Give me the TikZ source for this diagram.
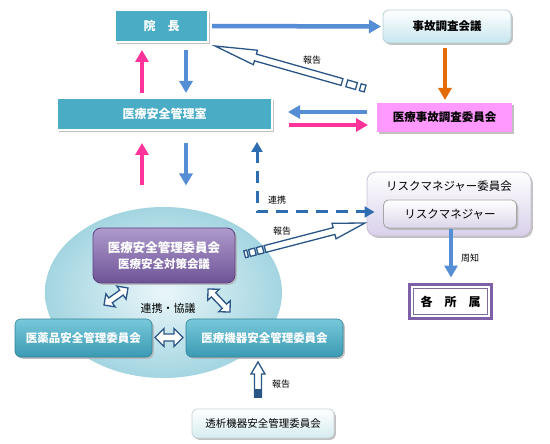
\documentclass[tikz,border=0pt]{standalone}
\usepackage{fontspec}
\setmainfont{Noto Sans CJK JP}
\usetikzlibrary{calc,arrows.meta,shadows,shapes.geometric}
\definecolor{teal1}{HTML}{4BACC6}
\definecolor{tealtop}{HTML}{78C8DA}
\definecolor{tealbot}{HTML}{3A9AB3}
\definecolor{blue1}{HTML}{558ED5}
\definecolor{pink1}{HTML}{FF3399}
\definecolor{orange1}{HTML}{E36C09}
\definecolor{hollowc}{HTML}{2A5687}
\definecolor{dashc}{HTML}{2E6DB0}
\definecolor{pinkbox}{HTML}{FF99FF}
\definecolor{purptop}{HTML}{AE9BCB}
\definecolor{purpbot}{HTML}{6E5397}
\definecolor{purpline}{HTML}{5B4583}
\definecolor{kakuc}{HTML}{7E60A8}
\definecolor{jikob}{HTML}{C6E6EE}
\definecolor{riskob}{HTML}{D8D0EA}
\definecolor{riskib}{HTML}{DCD6EA}
\definecolor{tousb}{HTML}{D6ECF1}
\definecolor{ellin}{HTML}{EAF6F9}
\definecolor{ellout}{HTML}{A3D5E1}
\newcommand\hollowarrow[5]{% tail, tip, half shaft, half head, head length
  \coordinate (ha-hb) at ($(#2)!#5!(#1)$);
  \filldraw[hollow] ($(#1)!#3!90:(#2)$) -- ($(ha-hb)!#3!90:(#2)$) -- ($(ha-hb)!#4!90:(#2)$) -- (#2)
    -- ($(ha-hb)!#4!-90:(#2)$) -- ($(ha-hb)!#3!-90:(#2)$) -- ($(#1)!#3!-90:(#2)$) -- cycle;}
\newcommand\hollowdouble[5]{% a, b, half shaft, half head, head length
  \coordinate (hd-a) at ($(#1)!#5!(#2)$);
  \coordinate (hd-b) at ($(#2)!#5!(#1)$);
  \filldraw[hollow] (#1) -- ($(hd-a)!#4!90:(#2)$) -- ($(hd-a)!#3!90:(#2)$) -- ($(hd-b)!#3!90:(#2)$)
    -- ($(hd-b)!#4!90:(#2)$) -- (#2) -- ($(hd-b)!#4!-90:(#2)$) -- ($(hd-b)!#3!-90:(#2)$)
    -- ($(hd-a)!#3!-90:(#2)$) -- ($(hd-a)!#4!-90:(#2)$) -- cycle;}
\newcommand\tailbox[4]{% tail, tip, start, end (beyond tail)
  \coordinate (tb-1) at ($(#1)!-#3!(#2)$);
  \coordinate (tb-2) at ($(#1)!-#4!(#2)$);
  \filldraw[hollow] ($(tb-1)!3.5pt!90:(#2)$) -- ($(tb-2)!3.5pt!90:(#2)$) -- ($(tb-2)!3.5pt!-90:(#2)$)
    -- ($(tb-1)!3.5pt!-90:(#2)$) -- cycle;}
\begin{document}
\begin{tikzpicture}[x=1pt,y=-1pt,
  every node/.style={inner sep=0pt, outer sep=0pt},
  hollow/.style={draw=hollowc, line width=1.3pt, fill=white, line join=miter},
  shad/.style={drop shadow={shadow xshift=1.8pt,shadow yshift=-1.8pt,fill=black!30,opacity=0.8}},
  tealbox/.style={rectangle, fill=teal1, draw=white, line width=1.2pt, text=white,
    font=\fontsize{12}{14}\selectfont\bfseries, shad},
  tealround/.style={rectangle, rounded corners=6pt, top color=tealtop, bottom color=tealbot,
    draw=tealbot!85!black, line width=0.6pt, text=white, font=\fontsize{11.5}{14}\selectfont\bfseries, shad},
  lightbox/.style={rectangle, rounded corners=6pt, top color=white, bottom color=#1, draw=#1!80!gray,
    line width=0.8pt, shad},
  sarrow/.style={line width=4.5pt, -{Triangle[length=12pt,width=13pt]}},
  lbl/.style={font=\fontsize{9}{10}\selectfont}
]
\useasboundingbox (0,0) rectangle (550,444);
\fill[white] (0,0) rectangle (550,444);

% ellipse group
\node[ellipse, minimum width=237pt, minimum height=171pt, inner color=ellin, outer color=ellout] (ell) at (163.5,292.5) {};

% boxes
\node[tealbox, minimum width=93pt, minimum height=32pt] (inch) at (161.5,26) {院　長};
\node[lightbox=jikob, minimum width=128pt, minimum height=33pt,
  font=\fontsize{11.5}{14}\selectfont\bfseries] (jiko) at (447,26.5) {事故調査会議};
\node[tealbox, minimum width=215pt, minimum height=32pt] (anzen) at (164.5,114) {医療安全管理室};
\node[rectangle, fill=pinkbox, minimum width=135pt, minimum height=29pt, shad,
  font=\fontsize{11.5}{14}\selectfont\bfseries] (iinkai) at (444.5,117.5) {医療事故調査委員会};

\node[lightbox=riskob, rounded corners=9pt, minimum width=164pt, minimum height=64pt] (riskout) at (449,204) {};
\node[font=\fontsize{11.5}{14}\selectfont] (risktitle) at (449,186) {リスクマネジャー委員会};
\node[lightbox=riskib, rounded corners=5pt, minimum width=133pt, minimum height=28pt,
  draw=gray!70, font=\fontsize{11.5}{14}\selectfont] (riskin) at (450,214) {リスクマネジャー};

\node[rectangle, draw=kakuc, line width=3pt, fill=white, minimum width=82pt, minimum height=34pt] (kakusho) at (450.5,301.5) {};
\node[rectangle, draw=kakuc!60!gray, line width=0.7pt, minimum width=74pt, minimum height=26pt,
  font=\fontsize{12}{14}\selectfont\bfseries] (kakutext) at (450.5,301.5) {各　所　属};

\node[rectangle, rounded corners=8pt, top color=purptop, bottom color=purpbot, draw=purpline, line width=0.8pt,
  minimum width=142pt, minimum height=55pt, text=white, align=center, shad] (purple) at (164,255.5)
  {{\fontsize{12.5}{15}\selectfont\bfseries 医療安全管理委員会}\\[4pt]{\fontsize{11.5}{14}\selectfont\bfseries 医療安全対策会議}};

\node[tealround, minimum width=137pt, minimum height=38pt] (yakuhin) at (83.5,338) {医薬品安全管理委員会};
\node[tealround, minimum width=157pt, minimum height=38pt] (kiki) at (264.5,338) {医療機器安全管理委員会};
\node[lightbox=tousb, rounded corners=5pt, minimum width=142pt, minimum height=29pt,
  font=\fontsize{10.5}{13}\selectfont] (touseki) at (263,423.5) {透析機器安全管理委員会};

% solid arrows
\draw[sarrow, blue1] ([xshift=4pt]inch.east) -- ([xshift=-2pt]jiko.west);
\draw[sarrow, pink1] ($(anzen.north)+(-22.5,-5)$) -- ($(inch.south)+(-19.5,8)$);
\draw[sarrow, blue1] ($(inch.south)+(24.5,8)$) -- ($(anzen.north)+(21.5,-5)$);
\draw[sarrow, pink1] ($(ell.north)+(-21.5,-21.5)$) -- ($(anzen.south)+(-22.5,13)$);
\draw[sarrow, blue1] ($(anzen.south)+(21.5,13)$) -- ($(ell.north)+(22.5,-21.5)$);
\draw[sarrow, orange1] ($(jiko.south)+(-2,5)$) -- ($(iinkai.north)+(0.5,-3)$);
\draw[sarrow, blue1] ($(iinkai.west)+(-10,-5.5)$) -- ($(anzen.east)+(16,-2)$);
\draw[sarrow, pink1] ($(anzen.east)+(17,11)$) -- ($(iinkai.west)+(-9,7.5)$);
\draw[sarrow, blue1] ($(riskin.south)+(1,1)$) -- ($(kakusho.north)+(0.5,-7)$);

% dashed link
\draw[dashc, line width=3pt, dash pattern=on 12pt off 8pt,
  {Triangle[length=10pt,width=11pt]}-{Triangle[length=10pt,width=11pt]}]
  ($(anzen.south)+(92.5,12)$) |- ($(riskin.west)+(-9,-2)$);

% hollow report arrows
\coordinate (r1tail) at ($(iinkai.north west)+(-35,-21)$);
\coordinate (r1tip) at ($(inch.south east)+(7,4)$);
\hollowarrow{r1tail}{r1tip}{3.5pt}{7.5pt}{42pt}
\tailbox{r1tail}{r1tip}{5pt}{15pt}
\tailbox{r1tail}{r1tip}{19pt}{24pt}

\coordinate (r2tail) at ($(purple.east)+(30,-6.5)$);
\coordinate (r2tip) at ($(riskout.west)+(-2,19)$);
\hollowarrow{r2tail}{r2tip}{3.5pt}{8pt}{32pt}
\tailbox{r2tail}{r2tip}{2pt}{8pt}
\tailbox{r2tail}{r2tip}{10pt}{16pt}
\tailbox{r2tail}{r2tip}{18pt}{21pt}

\coordinate (r3tail) at ($(touseki.north)+(-5,-12)$);
\coordinate (r3tip) at ($(kiki.south)+(-6.5,5)$);
\hollowarrow{r3tail}{r3tip}{3.5pt}{7pt}{12pt}
\filldraw[hollowc] ($(r3tail)+(-3.5,0)$) rectangle ($(r3tail)+(3.5,-8)$);

% hollow double arrows
\coordinate (d1a) at ($(yakuhin.east)+(3,-0.5)$);
\coordinate (d1b) at ($(kiki.west)+(-3,-0.5)$);
\hollowdouble{d1a}{d1b}{3.5pt}{9pt}{9pt}
\coordinate (d2a) at ($(purple.south west)+(11,22)$);
\coordinate (d2b) at ($(purple.south west)+(35,5)$);
\hollowdouble{d2a}{d2b}{3pt}{8pt}{8pt}
\coordinate (d3a) at ($(purple.south east)+(-27,6)$);
\coordinate (d3b) at ($(purple.south east)+(-5,29)$);
\hollowdouble{d3a}{d3b}{3pt}{8pt}{8pt}

% labels
\node[lbl] (l1) at (312,60) {報告};
\node[lbl] (l2) at (282,231) {報告};
\node[lbl] (l3) at (281,384) {報告};
\node[lbl] (l4) at (277,200) {連携};
\node[lbl] (l5) at (470,258) {周知};
\node[font=\fontsize{11}{13}\selectfont] (l6) at (168,308) {連携・協議};
\end{tikzpicture}
\end{document}
